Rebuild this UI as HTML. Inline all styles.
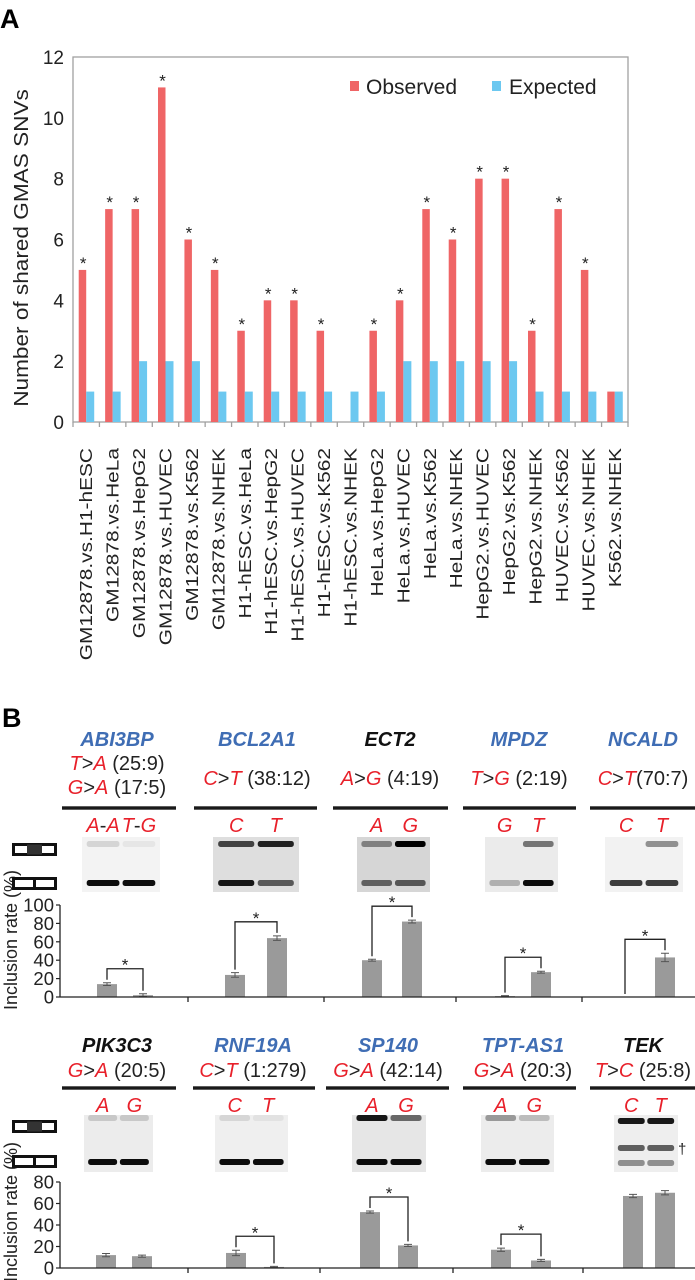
<!DOCTYPE html>
<html><head><meta charset="utf-8"><title>GMAS figure</title>
<style>
html,body{margin:0;padding:0;background:#fff;}
svg{display:block;font-family:"Liberation Sans",Arial,sans-serif;}
</style></head>
<body>
<svg id="fig" width="695" height="1280" viewBox="0 0 695 1280" xmlns="http://www.w3.org/2000/svg">
<text x="0" y="28" font-size="27" font-weight="bold">A</text>
<text x="2" y="727" font-size="27" font-weight="bold">B</text>
<g id="pa"></g>
<g id="pb"></g>
</svg>
<script>
// ---------- Panel A data ----------
const pairLabels = ["GM12878.vs.H1-hESC","GM12878.vs.HeLa","GM12878.vs.HepG2","GM12878.vs.HUVEC","GM12878.vs.K562","GM12878.vs.NHEK","H1-hESC.vs.HeLa","H1-hESC.vs.HepG2","H1-hESC.vs.HUVEC","H1-hESC.vs.K562","H1-hESC.vs.NHEK","HeLa.vs.HepG2","HeLa.vs.HUVEC","HeLa.vs.K562","HeLa.vs.NHEK","HepG2.vs.HUVEC","HepG2.vs.K562","HepG2.vs.NHEK","HUVEC.vs.K562","HUVEC.vs.NHEK","K562.vs.NHEK"];
const observed = [5,7,7,11,6,5,3,4,4,3,0,3,4,7,6,8,8,3,7,5,1];
const expected = [1,1,2,2,2,1,1,1,1,1,1,1,2,2,2,2,2,1,1,1,1];
const significant = [1,1,1,1,1,1,1,1,1,1,0,1,1,1,1,1,1,1,1,1,0];
const yTicksA = [0,2,4,6,8,10,12];

// ---------- Panel B data ----------
const genes1 = ["ABI3BP","BCL2A1","ECT2","MPDZ","NCALD"];
const genes2 = ["PIK3C3","RNF19A","SP140","TPT-AS1","TEK"];
const geneBlue1 = [1,1,0,1,1];
const geneBlue2 = [0,1,1,1,0];
const variants1 = [[["T","A","(25:9)"],["G","A","(17:5)"]],[["C","T","(38:12)"]],[["A","G","(4:19)"]],[["T","G","(2:19)"]],[["C","T","(70:7)"]]];
const variants2 = [[["G","A","(20:5)"]],[["C","T","(1:279)"]],[["G","A","(42:14)"]],[["G","A","(20:3)"]],[["T","C","(25:8)"]]];
const alleles1 = [["A-A","T-G"],["C","T"],["A","G"],["G","T"],["C","T"]];
const alleles2 = [["A","G"],["C","T"],["A","G"],["A","G"],["C","T"]];
const incl1A = [14,24,40,1,0];
const incl1B = [2,64,82,27,43];
const err1A = [1.5,2.5,1,0.5,0];
const err1B = [1.5,2.5,1.5,1,4.5];
const sig1 = [1,1,1,1,1];
const incl2A = [12,14,52,17,67];
const incl2B = [11,1,21,7,70];
const err2A = [1.5,2.5,1,1.5,1.5];
const err2B = [1,0.5,1,1,2];
const sig2 = [0,1,1,1,0];
const yTicksB1 = [0,20,40,60,80,100];
const yTicksB2 = [0,20,40,60,80];
const gel1 = [[[0.12,0.95],[0.05,0.95]],[[0.7,0.9],[0.85,0.6]],[[0.4,0.55],[1.0,0.6]],[[0.0,0.25],[0.5,0.95]],[[0.0,0.75],[0.4,0.75]]];
const gel2 = [[[0.15,0.95],[0.15,0.95]],[[0.1,0.95],[0.05,0.95]],[[0.9,0.95],[0.55,0.95]],[[0.35,0.95],[0.2,0.95]],[[0.9,0.6,0.4],[0.9,0.6,0.4]]];

const NS="http://www.w3.org/2000/svg";
function mk(parent,tag,attrs,txt){const e=document.createElementNS(NS,tag);for(const k in attrs)e.setAttribute(k,attrs[k]);if(txt!==undefined)e.textContent=txt;parent.appendChild(e);return e;}

// ---------- Panel A ----------
(function(){
const g=document.getElementById('pa');
const L=73,R=628,T=57,B=422,ymax=12;
const band=(R-L)/pairLabels.length;
const y=v=>B-(v/ymax)*(B-T);
const xc=i=>L+band*(i+0.5);
let e;
e=mk(g,'rect',{x:L,y:T,width:R-L,height:B-T,fill:'none',stroke:'#a0a0a0','stroke-width':1.3});


yTicksA.forEach(t=>{
 e=mk(g,'text',{x:64,y:y(t)+7,'font-size':19,'text-anchor':'end',fill:'#222'},String(t));
 
 
});
for(let i=0;i<=pairLabels.length;i++){
 e=mk(g,'line',{x1:L+band*i,x2:L+band*i,y1:B,y2:B+5,stroke:'#a0a0a0','stroke-width':1.3});
 
 
}
pairLabels.forEach((lab,i)=>{
 const cx=xc(i);
 e=mk(g,'rect',{x:cx-7.5,y:y(observed[i]),width:7.5,height:B-y(observed[i]),fill:'#ef6566'});
 
 
 e=mk(g,'rect',{x:cx,y:y(expected[i]),width:8,height:B-y(expected[i]),fill:'#6cc8f0'});
 
 
 if(significant[i]){
  e=mk(g,'text',{x:cx-3,y:y(observed[i])-1,'font-size':17,'text-anchor':'middle',fill:'#222'},'*');
  
  
 }
 e=mk(g,'text',{transform:`translate(${cx+6},448) rotate(-90) scale(1.16,1)`,'font-size':18,'text-anchor':'end',fill:'#222'},lab);
 
 
});
e=mk(g,'text',{transform:'translate(28,248) rotate(-90) scale(1.13,1)','font-size':20,'text-anchor':'middle',fill:'#222'},'Number of shared GMAS SNVs');


e=mk(g,'rect',{x:350,y:81,width:9,height:10,fill:'#ef6566'});


e=mk(g,'text',{x:366,y:94,'font-size':21,fill:'#222'},'Observed');


e=mk(g,'rect',{x:492,y:81,width:9,height:10,fill:'#6cc8f0'});


e=mk(g,'text',{x:509,y:94,'font-size':21,fill:'#222'},'Expected');


})();

// ---------- Panel B ----------
function buildRow(cfg){
const g=document.getElementById('pb');
let e;
const red='#e8202a', blue='#3f6db4';
cfg.genes.forEach((gn,i)=>{
 const cx=cfg.nameX[i];
 e=mk(g,'text',{x:cx,y:cfg.nameY,'font-size':20,'font-weight':'bold','font-style':'italic','text-anchor':'middle',fill:cfg.blue[i]?blue:'#111'},gn);
 
 
 const vs=cfg.variants[i];
 vs.forEach((v,k)=>{
  const yy = vs.length===1 ? cfg.varY : cfg.varY2[k];
  const t=mk(g,'text',{x:cx,y:yy,'font-size':20,'text-anchor':'middle',fill:'#222'});
  
  
  mk(t,'tspan',{fill:red,'font-style':'italic'},v[0]);
  mk(t,'tspan',{},'>');
  mk(t,'tspan',{fill:red,'font-style':'italic'},v[1]);
  mk(t,'tspan',{},(gn==='NCALD'?'':' ')+v[2]);
 });
 const ln=cfg.lines[i];
 e=mk(g,'rect',{x:ln[0],y:cfg.lineY-1.7,width:ln[1]-ln[0],height:3.4,fill:'#1a1a1a'});
 
 
 const gx=cfg.gels[i];
 const w=gx[1]-gx[0];
 e=mk(g,'rect',{x:gx[0],y:cfg.gelY[0],width:w,height:cfg.gelY[1]-cfg.gelY[0],fill:cfg.gelBg[i]});
 
 
 const lanes=[gx[0]+w*0.27,gx[0]+w*0.73];
 cfg.gel[i].forEach((lane,li)=>{
  const bandsY = lane.length===3?cfg.bandY3:cfg.bandY;
  lane.forEach((inten,bi)=>{
   if(inten<=0) return;
   e=mk(g,'rect',{x:lanes[li]-w*0.21,y:bandsY[bi]-3,width:w*0.42,height:6,rx:2.5,fill:'#000','fill-opacity':inten});
   
   
  });
  const al=cfg.alleles[i][li];
  const t=mk(g,'text',{x:lanes[li],y:cfg.alleleY,'font-size':20,'text-anchor':'middle',fill:red,'font-style':'italic'});
  
  
  if(al.includes('-')){const p=al.split('-');mk(t,'tspan',{},p[0]);mk(t,'tspan',{fill:'#222','font-style':'normal'},'-');mk(t,'tspan',{},p[1]);}
  else t.textContent=al;
 });
 const y=v=>cfg.y0-v*cfg.k;
 const bx=[cfg.barX[i]-cfg.off[i],cfg.barX[i]+cfg.off[i]];
 const vals=[cfg.A[i],cfg.B[i]], errs=[cfg.eA[i],cfg.eB[i]];
 vals.forEach((v,bi)=>{
  e=mk(g,'rect',{x:bx[bi]-10,y:y(v),width:20,height:Math.max(v*cfg.k,0.01),fill:'#9a9a9a'});
  
  
  if(v>0||errs[bi]>0){
   const p=mk(g,'path',{d:`M${bx[bi]-4},${y(v+errs[bi])}H${bx[bi]+4}M${bx[bi]},${y(v+errs[bi])}V${y(Math.max(v-errs[bi],0))}M${bx[bi]-4},${y(Math.max(v-errs[bi],0))}H${bx[bi]+4}`,stroke:'#555','stroke-width':1,fill:'none'});
   
   
  }
 });
 if(cfg.sig[i]){
  const top=Math.max(vals[0]+errs[0],vals[1]+errs[1]);
  const yt=y(top)-14;
  const p=mk(g,'path',{d:`M${bx[0]},${y(vals[0]+errs[0])-3}V${yt}H${bx[1]}V${y(vals[1]+errs[1])-3}`,stroke:'#222','stroke-width':1.3,fill:'none'});
  
  
  e=mk(g,'text',{x:(bx[0]+bx[1])/2,y:yt+2,'font-size':17,'text-anchor':'middle',fill:'#222'},'*');
  
  
 }
});
e=mk(g,'line',{x1:60,x2:695,y1:cfg.y0,y2:cfg.y0,stroke:'#222','stroke-width':1.3});


cfg.seps.forEach(sx=>{
 e=mk(g,'line',{x1:sx,x2:sx,y1:cfg.y0,y2:cfg.y0+5,stroke:'#222','stroke-width':1.3});
 
 
});
const tmax=cfg.ticks[cfg.ticks.length-1];
e=mk(g,'line',{x1:60,x2:60,y1:cfg.y0-tmax*cfg.k,y2:cfg.y0,stroke:'#222','stroke-width':1.3});


cfg.ticks.forEach(t=>{
 e=mk(g,'line',{x1:56,x2:60,y1:cfg.y0-t*cfg.k,y2:cfg.y0-t*cfg.k,stroke:'#222','stroke-width':1.2});
 
 
 e=mk(g,'text',{x:54,y:cfg.y0-t*cfg.k+6.5,'font-size':18.5,'text-anchor':'end',fill:'#222'},String(t));
 
 
});
e=mk(g,'text',{transform:`translate(17,${cfg.titleY}) rotate(-90)`,'font-size':18,'text-anchor':'middle',fill:'#222'},'Inclusion rate (%)');


[[cfg.iconY[0],true],[cfg.iconY[1],false]].forEach(([iy,incl])=>{
 const ig=mk(g,'g',{});
 
 
 mk(ig,'rect',{x:13.5,y:iy+1.5,width:42,height:10,fill:'#fff',stroke:'#111','stroke-width':3});
 if(incl){mk(ig,'rect',{x:27,y:iy+1.5,width:15,height:10,fill:'#333'});}
 else{mk(ig,'line',{x1:34.5,x2:34.5,y1:iy,y2:iy+13,stroke:'#111','stroke-width':3});}
});
}
buildRow({genes:genes1,blue:geneBlue1,variants:variants1,alleles:alleles1,gel:gel1,
 nameX:[117,257,390,519,643],nameY:746,varY:785,varY2:[770,794],
 lines:[[62,176],[194,317],[333,448],[463,576],[590,695]],lineY:808,alleleY:832,
 gels:[[82,160],[213,299],[357,430],[485,558],[605,683]],gelY:[837,892],
 gelBg:['#f3f3f3','#dedede','#d6d6d6','#ebebeb','#f2f2f2'],bandY:[844,883],bandY3:[844,860,883],
 A:incl1A,B:incl1B,eA:err1A,eB:err1B,sig:sig1,barX:[125,256,392,523,645],off:[18,21,20,18,20],
 y0:997,k:0.92,ticks:yTicksB1,seps:[188,324,456,582],titleY:940,iconY:[843,877]});
buildRow({genes:genes2,blue:geneBlue2,variants:variants2,alleles:alleles2,gel:gel2,
 nameX:[117,253,388,523,643],nameY:1052,varY:1077,varY2:[1077,1077],
 lines:[[62,176],[193,315],[326,449],[463,576],[590,695]],lineY:1088,alleleY:1112,
 gels:[[84,153],[215,288],[352,426],[481,554],[614,678]],gelY:[1115,1172],
 gelBg:['#ececec','#efefef','#e6e6e6','#ececec','#eeeeee'],bandY:[1118,1162],bandY3:[1121,1148,1163],
 A:incl2A,B:incl2B,eA:err2A,eB:err2B,sig:sig2,barX:[124,255,389,521,649],off:[18,19,19,20,16],
 y0:1268,k:1.075,ticks:yTicksB2,seps:[188,320,453,583],titleY:1212,iconY:[1120,1155]});
(function(){const g=document.getElementById('pb');
const e=mk(g,'text',{x:678,y:1154,'font-size':15,fill:'#222'},'†');

})();
</script>
</body></html>
